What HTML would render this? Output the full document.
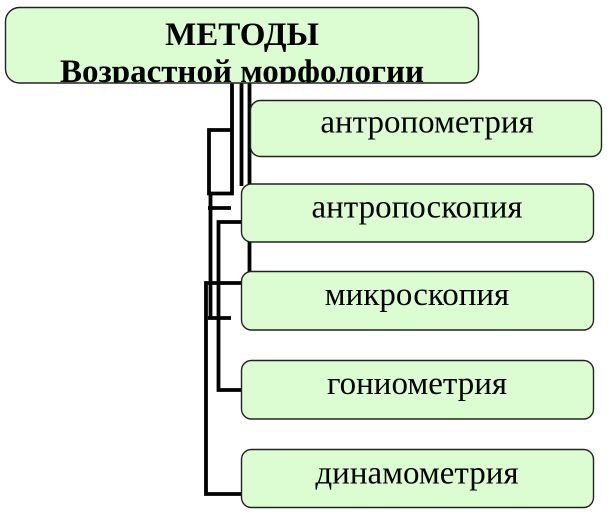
<!DOCTYPE html>
<html>
<head>
<meta charset="utf-8">
<style>
  html, body { margin: 0; padding: 0; background: #ffffff; }
  body { width: 611px; height: 518px; overflow: hidden; }
  svg { display: block; }
  .t { font-family: "Liberation Serif", "DejaVu Serif", serif; font-size: 33px; fill: #000; }
  .b { font-family: "Liberation Serif", "DejaVu Serif", serif; font-size: 33px; font-weight: bold; fill: #000; }
</style>
</head>
<body>
<svg width="611" height="518" viewBox="0 0 611 518" xmlns="http://www.w3.org/2000/svg">
  <defs>
    <clipPath id="topclip">
      <rect x="5.5" y="7.5" width="473" height="75.5" rx="14" ry="14"/>
    </clipPath>
  </defs>

  <!-- connectors -->
  <g fill="none" stroke="#000" stroke-width="3.8" stroke-linejoin="miter" stroke-linecap="butt">
    <path d="M232,83 V193.5 H209 V130 H233.5"/>
    <path d="M241.5,83 V186"/>
    <path d="M249.5,83 V274"/>
    <path d="M208,208 H231"/>
    <path d="M210.5,192 V319"/>
    <path d="M208,318 H231"/>
    <path d="M242,222 H218.5 V390 H242"/>
    <path d="M242,283 H206 V494 H242"/>
  </g>

  <!-- top box -->
  <rect x="5.5" y="7.5" width="473" height="75.5" rx="14" ry="14" fill="#dcfdd2"/>
  <g clip-path="url(#topclip)">
    <text class="b" x="242" y="45" text-anchor="middle">МЕТОДЫ</text>
    <text class="b" x="242" y="82" text-anchor="middle">Возрастной морфологии</text>
  </g>
  <rect x="5.5" y="7.5" width="473" height="75.5" rx="14" ry="14" fill="none" stroke="#222" stroke-width="1.4"/>

  <!-- method boxes -->
  <g stroke="#222" stroke-width="1.4" fill="#dcfdd2">
    <rect x="250.5" y="100.5" width="351" height="56" rx="10" ry="10"/>
    <rect x="241.5" y="184" width="352" height="58" rx="10" ry="10"/>
    <rect x="241.5" y="271.5" width="352" height="58.5" rx="10" ry="10"/>
    <rect x="241.5" y="360.5" width="352" height="58.5" rx="10" ry="10"/>
    <rect x="241.5" y="449.5" width="352" height="58" rx="10" ry="10"/>
  </g>

  <text class="t" x="427" y="132.5" text-anchor="middle">антропометрия</text>
  <text class="t" x="417" y="217.5" text-anchor="middle">антропоскопия</text>
  <text class="t" x="417" y="305" text-anchor="middle">микроскопия</text>
  <text class="t" x="417" y="394" text-anchor="middle">гониометрия</text>
  <text class="t" x="417" y="483.5" text-anchor="middle">динамометрия</text>
</svg>
</body>
</html>
